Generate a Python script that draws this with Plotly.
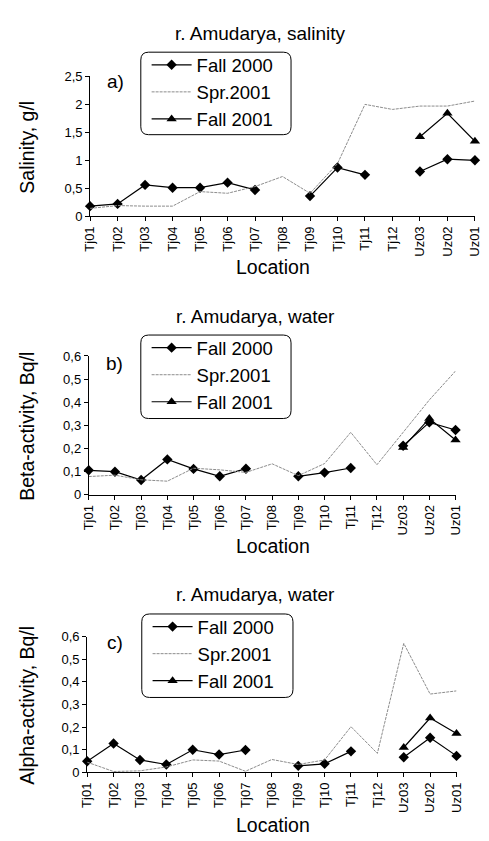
import plotly.graph_objects as go

W, H = 489, 841

locations = ["Tj01", "Tj02", "Tj03", "Tj04", "Tj05", "Tj06", "Tj07", "Tj08",
             "Tj09", "Tj10", "Tj11", "Tj12", "Uz03", "Uz02", "Uz01"]

series_names = ["Fall 2000", "Spr.2001", "Fall 2001"]

sal_fall2000 = [0.18, 0.22, 0.56, 0.51, 0.51, 0.60, 0.47, None, 0.36, 0.87, 0.74, None, 0.80, 1.02, 1.00]
sal_spr2001 = [0.14, 0.19, 0.18, 0.18, 0.44, 0.41, 0.53, 0.71, 0.41, 0.94, 2.00, 1.91, 1.97, 1.97, 2.06]
sal_fall2001 = [None] * 12 + [1.42, 1.84, 1.34]

beta_fall2000 = [0.106, 0.100, 0.064, 0.153, 0.112, 0.080, 0.113, None, 0.080, 0.096, 0.116, None, 0.212, 0.313, 0.280]
beta_spr2001 = [0.079, 0.085, 0.065, 0.059, 0.115, 0.108, 0.097, 0.134, 0.083, 0.135, 0.270, 0.130, 0.270, 0.410, 0.535]
beta_fall2001 = [None] * 12 + [0.205, 0.330, 0.237]

alpha_fall2000 = [0.049, 0.128, 0.055, 0.035, 0.100, 0.079, 0.099, None, 0.029, 0.038, 0.093, None, 0.067, 0.153, 0.073]
alpha_spr2001 = [0.045, 0.004, 0.007, 0.024, 0.055, 0.050, 0.005, 0.057, 0.035, 0.055, 0.202, 0.084, 0.570, 0.346, 0.360]
alpha_fall2001 = [None] * 12 + [0.110, 0.240, 0.172]

titles = ["r. Amudarya, salinity", "r. Amudarya, water", "r. Amudarya, water"]
ytitles = ["Salinity, g/l", "Beta-activity, Bq/l", "Alpha-activity, Bq/l"]
panel_labels = ["a)", "b)", "c)"]
yranges = [(0, 2.5), (0, 0.6), (0, 0.6)]
ydticks = [0.5, 0.1, 0.1]

data = [
    (sal_fall2000, sal_spr2001, sal_fall2001),
    (beta_fall2000, beta_spr2001, beta_fall2001),
    (alpha_fall2000, alpha_spr2001, alpha_fall2001),
]

# layout in pixels (style)
plot_px = [  # x0, x1, ytop, ybottom
    (84.7, 481.7, 70.7, 213.0),
    (83.3, 461.7, 355.3, 496.7),
    (81.7, 462.7, 641.0, 779.3),
]
legend_box = [(137, 292, 46, 130), (137, 292, 334, 419), (138, 294, 618, 703)]
title_pos = [(261, 27), (255, 315), (255, 598)]
label_pos = [(111, 76), (110, 363), (110, 647)]

FONT = "Arial, Liberation Sans, sans-serif"


def px_x(x):
    return x / W


def px_y(y):
    return 1 - y / H


def rounded_path(x0, x1, y0, y1, r=8):
    X0, X1 = px_x(x0), px_x(x1)
    Y0, Y1 = px_y(y0), px_y(y1)  # Y0 top (higher), Y1 bottom
    rx, ry = r / W, r / H
    return (f"M {X0+rx},{Y0} L {X1-rx},{Y0} Q {X1},{Y0} {X1},{Y0-ry} "
            f"L {X1},{Y1+ry} Q {X1},{Y1} {X1-rx},{Y1} "
            f"L {X0+rx},{Y1} Q {X0},{Y1} {X0},{Y1+ry} "
            f"L {X0},{Y0-ry} Q {X0},{Y0} {X0+rx},{Y0} Z")


fig = go.Figure()
layout = dict(
    width=W, height=H, margin=dict(l=0, r=0, t=0, b=0),
    paper_bgcolor="white", plot_bgcolor="white",
    font=dict(family=FONT, color="black"),
    separators=", ",
    showlegend=True,
)
annotations = []
shapes = []

for k in range(3):
    n = k + 1
    xa = "x" if n == 1 else f"x{n}"
    ya = "y" if n == 1 else f"y{n}"
    leg = "legend" if n == 1 else f"legend{n}"
    f00, s01, f01 = data[k]
    fig.add_trace(go.Scatter(
        x=locations, y=f00, name=series_names[0], mode="lines+markers",
        line=dict(color="black", width=1.2),
        marker=dict(symbol="diamond", size=8, color="black"),
        xaxis=xa, yaxis=ya, legend=leg, cliponaxis=False, connectgaps=False))
    fig.add_trace(go.Scatter(
        x=locations, y=s01, name=series_names[1], mode="lines",
        line=dict(color="#8c8c8c", width=1, dash="3px,1px"),
        xaxis=xa, yaxis=ya, legend=leg, cliponaxis=False))
    fig.add_trace(go.Scatter(
        x=locations, y=f01, name=series_names[2], mode="lines+markers",
        line=dict(color="black", width=1.2),
        marker=dict(symbol="triangle-up", size=9, color="black"),
        xaxis=xa, yaxis=ya, legend=leg, cliponaxis=False, connectgaps=False))

    x0, x1, yt, yb = plot_px[k]
    xdom = [px_x(x0), px_x(x1)]
    ydom = [px_y(yb), px_y(yt)]
    key_x = "xaxis" if n == 1 else f"xaxis{n}"
    key_y = "yaxis" if n == 1 else f"yaxis{n}"
    layout[key_x] = dict(
        domain=xdom, anchor=ya, type="category", range=[0, len(locations) - 1],
        showline=True, linecolor="black", linewidth=1, showgrid=False, zeroline=False,
        ticks="outside", ticklen=4, tickcolor="black", tickwidth=1,
        tickangle=-90, tickfont=dict(size=13, family=FONT),
    )
    layout[key_y] = dict(
        domain=ydom, anchor=xa, range=list(yranges[k]), dtick=ydticks[k], tick0=0,
        showline=True, linecolor="black", linewidth=1, showgrid=False, zeroline=False,
        ticks="outside", ticklen=4, tickcolor="black", tickwidth=1,
        tickfont=dict(size=13, family=FONT),
    )
    # overlay axes to draw the inner half of the crossing tick marks
    ox, oy = n + 3, n + 3
    layout[f"xaxis{ox}"] = dict(
        domain=xdom, anchor=ya, overlaying=xa, range=[0, len(locations) - 1],
        dtick=1, tick0=0, ticks="inside", ticklen=3, tickcolor="black",
        showticklabels=False, showline=False, showgrid=False, zeroline=False)
    layout[f"yaxis{oy}"] = dict(
        domain=ydom, anchor=xa, overlaying=ya, range=list(yranges[k]),
        dtick=ydticks[k], tick0=0, ticks="inside", ticklen=3, tickcolor="black",
        showticklabels=False, showline=False, showgrid=False, zeroline=False)

    bx0, bx1, by0, by1 = legend_box[k]
    layout[leg] = dict(
        x=px_x(bx0 + 6), y=px_y(by0 - 6), xanchor="left", yanchor="top",
        bgcolor="rgba(0,0,0,0)", borderwidth=0,
        font=dict(size=18.5, family=FONT), itemwidth=40, tracegroupgap=0,
    )
    shapes.append(dict(type="path", xref="paper", yref="paper",
                       path=rounded_path(bx0, bx1, by0, by1),
                       line=dict(color="black", width=1), layer="above"))

    tx, ty = title_pos[k]
    annotations.append(dict(text=titles[k], x=px_x(tx), y=px_y(ty), xref="paper", yref="paper",
                            showarrow=False, xanchor="center", yanchor="middle",
                            font=dict(size=19, family=FONT)))
    annotations.append(dict(text=ytitles[k], x=px_x(20), y=px_y((yt + yb) / 2 + 1),
                            xref="paper", yref="paper", textangle=-90,
                            showarrow=False, xanchor="center", yanchor="middle",
                            font=dict(size=19.5, family=FONT)))
    loc_y = [265, 549, 833][k]
    annotations.append(dict(text="Location", x=px_x(273), y=px_y(loc_y), xref="paper", yref="paper",
                            showarrow=False, xanchor="center", yanchor="middle",
                            font=dict(size=19.5, family=FONT)))
    lx, ly = label_pos[k]
    annotations.append(dict(text=panel_labels[k], x=px_x(lx), y=px_y(ly), xref="paper", yref="paper",
                            showarrow=False, xanchor="center", yanchor="middle",
                            font=dict(size=19, family=FONT)))

layout["annotations"] = annotations
layout["shapes"] = shapes
fig.update_layout(**layout)
fig.write_html("out.html")
